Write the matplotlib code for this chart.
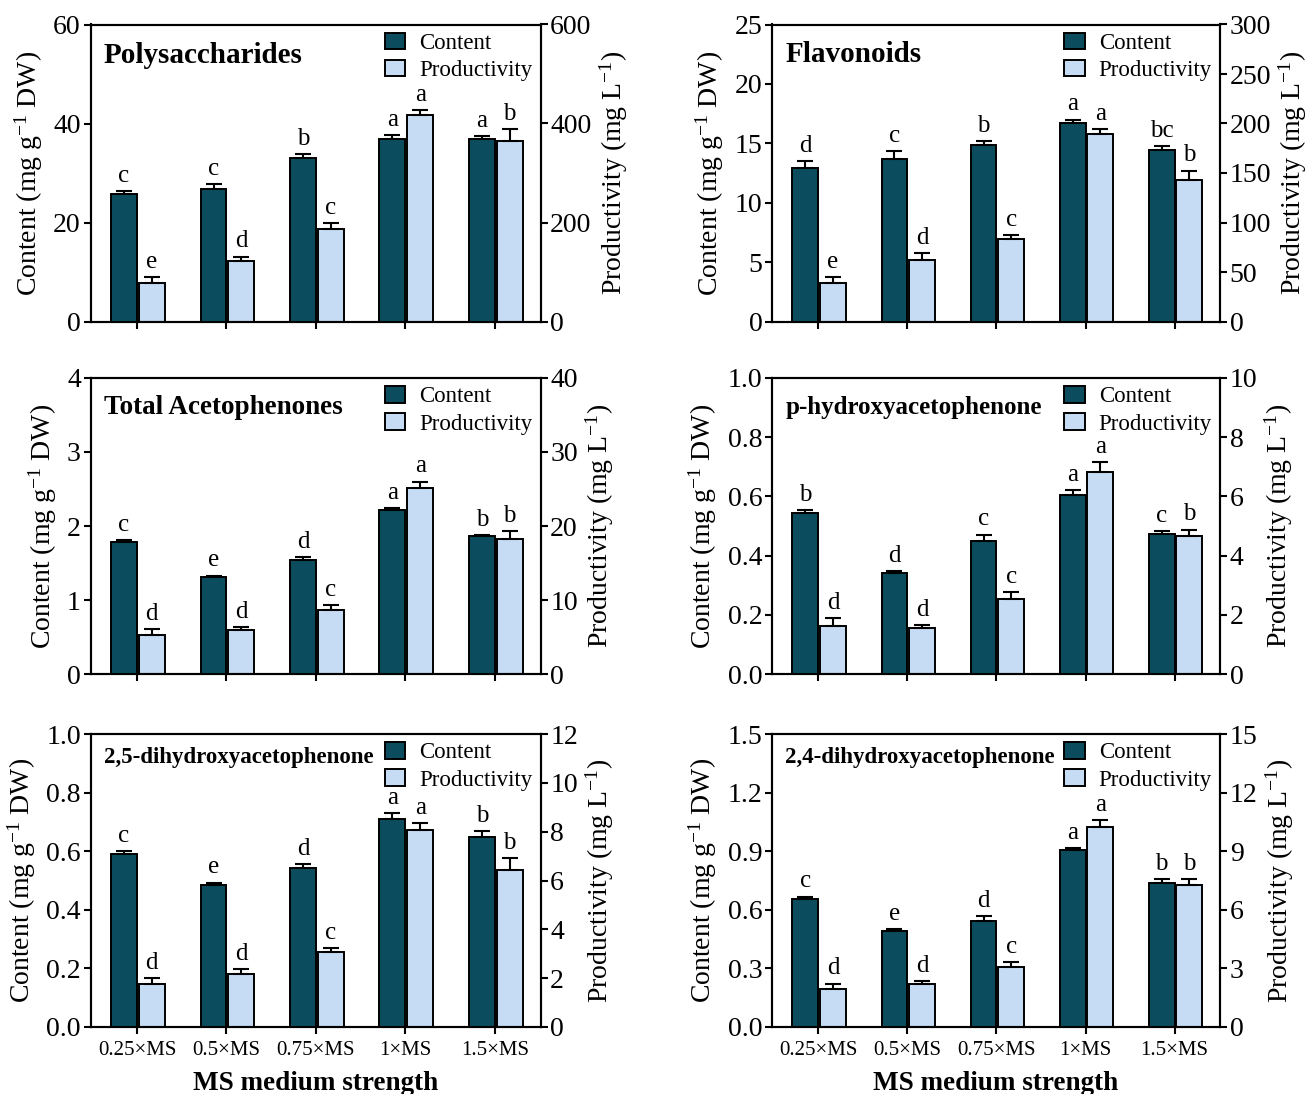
import matplotlib
matplotlib.use("Agg")
import matplotlib.pyplot as plt
import numpy as np
from matplotlib.patches import Patch

plt.rcParams['font.family'] = ['Liberation Serif', 'DejaVu Serif']
plt.rcParams['mathtext.fontset'] = 'custom'
plt.rcParams['mathtext.rm'] = 'Liberation Serif'
plt.rcParams['mathtext.it'] = 'Liberation Serif:italic'
plt.rcParams['mathtext.bf'] = 'Liberation Serif:bold'

categories = ['0.25×MS', '0.5×MS', '0.75×MS', '1×MS', '1.5×MS']

# Polysaccharides
poly_content = [25.7, 26.8, 33.0, 36.8, 36.95]
poly_content_err = [0.7, 1.0, 0.8, 0.9, 0.45]
poly_prod = [77, 122, 187, 417, 365]
poly_prod_err = [13, 9, 12, 10, 23]
poly_content_letters = ['c', 'c', 'b', 'a', 'a']
poly_prod_letters = ['e', 'd', 'c', 'a', 'b']

# Flavonoids
flav_content = [12.94, 13.72, 14.82, 16.73, 14.4]
flav_content_err = [0.55, 0.62, 0.37, 0.26, 0.39]
flav_prod = [38.5, 62.4, 83.7, 189, 142.8]
flav_prod_err = [6.5, 6.5, 3.7, 5.4, 9.7]
flav_content_letters = ['d', 'c', 'b', 'a', 'bc']
flav_prod_letters = ['e', 'd', 'c', 'a', 'b']

# Total acetophenones
tace_content = [1.79, 1.31, 1.54, 2.22, 1.86]
tace_content_err = [0.02, 0.02, 0.04, 0.02, 0.02]
tace_prod = [5.33, 5.88, 8.68, 25.2, 18.3]
tace_prod_err = [0.73, 0.49, 0.59, 0.8, 1.0]
tace_content_letters = ['c', 'e', 'd', 'a', 'b']
tace_prod_letters = ['d', 'd', 'c', 'a', 'b']

# p-hydroxyacetophenone
phyd_content = [0.543, 0.341, 0.449, 0.604, 0.473]
phyd_content_err = [0.010, 0.008, 0.022, 0.018, 0.009]
phyd_prod = [1.63, 1.55, 2.54, 6.84, 4.67]
phyd_prod_err = [0.25, 0.11, 0.23, 0.33, 0.21]
phyd_content_letters = ['b', 'd', 'c', 'a', 'c']
phyd_prod_letters = ['d', 'd', 'c', 'a', 'b']

# 2,5-dihydroxyacetophenone
d25_content = [0.591, 0.483, 0.544, 0.710, 0.650]
d25_content_err = [0.008, 0.010, 0.011, 0.020, 0.018]
d25_prod = [1.76, 2.17, 3.07, 8.06, 6.42]
d25_prod_err = [0.23, 0.20, 0.15, 0.29, 0.51]
d25_content_letters = ['c', 'e', 'd', 'a', 'b']
d25_prod_letters = ['d', 'd', 'c', 'a', 'b']

# 2,4-dihydroxyacetophenone
d24_content = [0.656, 0.491, 0.545, 0.905, 0.736]
d24_content_err = [0.012, 0.012, 0.021, 0.009, 0.021]
d24_prod = [1.96, 2.20, 3.07, 10.26, 7.28]
d24_prod_err = [0.26, 0.14, 0.25, 0.34, 0.29]
d24_content_letters = ['c', 'e', 'd', 'a', 'b']
d24_prod_letters = ['d', 'd', 'c', 'a', 'b']

C_DARK = '#0b4d5e'
C_LIGHT = '#c6dcf4'

panels = [
    dict(title='Polysaccharides', tsize=21, ty=0.897,
         c=poly_content, ce=poly_content_err, p=poly_prod, pe=poly_prod_err,
         cl=poly_content_letters, pl=poly_prod_letters,
         lt=np.arange(0, 61, 20), rt=np.arange(0, 601, 200), fmt='{:.0f}'),
    dict(title='Flavonoids', tsize=21, ty=0.90,
         c=flav_content, ce=flav_content_err, p=flav_prod, pe=flav_prod_err,
         cl=flav_content_letters, pl=flav_prod_letters,
         lt=np.arange(0, 26, 5), rt=np.arange(0, 301, 50), fmt='{:.0f}'),
    dict(title='Total Acetophenones', tsize=19.5, ty=0.899,
         c=tace_content, ce=tace_content_err, p=tace_prod, pe=tace_prod_err,
         cl=tace_content_letters, pl=tace_prod_letters,
         lt=np.arange(0, 5, 1), rt=np.arange(0, 41, 10), fmt='{:.0f}'),
    dict(title='p-hydroxyacetophenone', tsize=18, ty=0.90,
         c=phyd_content, ce=phyd_content_err, p=phyd_prod, pe=phyd_prod_err,
         cl=phyd_content_letters, pl=phyd_prod_letters,
         lt=np.linspace(0, 1.0, 6), rt=np.arange(0, 11, 2), fmt='{:.1f}'),
    dict(title='2,5-dihydroxyacetophenone', tsize=16.5, ty=0.92,
         c=d25_content, ce=d25_content_err, p=d25_prod, pe=d25_prod_err,
         cl=d25_content_letters, pl=d25_prod_letters,
         lt=np.linspace(0, 1.0, 6), rt=np.arange(0, 13, 2), fmt='{:.1f}'),
    dict(title='2,4-dihydroxyacetophenone', tsize=16.5, ty=0.92,
         c=d24_content, ce=d24_content_err, p=d24_prod, pe=d24_prod_err,
         cl=d24_content_letters, pl=d24_prod_letters,
         lt=np.linspace(0, 1.5, 6), rt=np.arange(0, 16, 3), fmt='{:.1f}'),
]

W, H = 1309, 1094
fig = plt.figure(figsize=(W / 100, H / 100), dpi=100)

cols = [(90.5, 540.5), (772, 1220)]
rows = [(24.5, 321.5), (378, 674), (734, 1027)]

x = np.arange(len(categories))
bw = 0.29
LW = 1.5

for i, pn in enumerate(panels):
    r, cidx = divmod(i, 2)
    x0, x1 = cols[cidx]
    y0, y1 = rows[r]
    ax = fig.add_axes([x0 / W, 1 - y1 / H, (x1 - x0) / W, (y1 - y0) / H])
    ax2 = ax.twinx()
    ax.set_zorder(ax2.get_zorder() + 1)
    ax.patch.set_visible(False)

    ce = pn['ce']; pe = pn['pe']
    ax.bar(x - bw / 2, pn['c'], bw, color=C_DARK, edgecolor='black', linewidth=1.4,
           yerr=[np.zeros(len(ce)), ce], error_kw=dict(ecolor='black', elinewidth=1.5,
                                                       capsize=5.5, capthick=1.5))
    ax2.bar(x + 0.02 + bw / 2, pn['p'], bw, color=C_LIGHT, edgecolor='black', linewidth=1.4,
            yerr=[np.zeros(len(pe)), pe], error_kw=dict(ecolor='black', elinewidth=1.5,
                                                        capsize=5.5, capthick=1.5))
    for xi, v, e, lab in zip(x, pn['c'], ce, pn['cl']):
        ax.annotate(lab, (xi - bw / 2, v + e), xytext=(0, 3), textcoords='offset points',
                    ha='center', va='bottom', fontsize=18)
    for xi, v, e, lab in zip(x, pn['p'], pe, pn['pl']):
        ax2.annotate(lab, (xi + 0.02 + bw / 2, v + e), xytext=(0, 3), textcoords='offset points',
                     ha='center', va='bottom', fontsize=18)

    ax.set_xlim(-0.52, 4.51)
    lt = pn['lt']; rt = pn['rt']
    ax.set_ylim(lt[0], lt[-1])
    ax2.set_ylim(rt[0], rt[-1])
    ax.set_yticks(lt)
    ax.set_yticklabels([pn['fmt'].format(t) for t in lt])
    ax2.set_yticks(rt)
    ax2.set_yticklabels(['{:.0f}'.format(t) for t in rt])
    ax.set_xticks(x)
    if r == 2:
        ax.set_xticklabels(categories, fontsize=15)
        ax.set_xlabel('MS medium strength', fontsize=19.5, fontweight='bold', labelpad=8)
    else:
        ax.set_xticklabels([])

    for a in (ax, ax2):
        for s in a.spines.values():
            s.set_linewidth(LW)
        a.tick_params(axis='both', width=LW, length=5, labelsize=20, direction='out', pad=2)
    ax.tick_params(axis='x', labelsize=15, pad=5)

    ax.set_ylabel('Content (mg g$^{\\mathregular{-1}}$ DW)', fontsize=20, labelpad=6)
    ax2.set_ylabel('Productivity (mg L$^{\\mathregular{-1}}$)', fontsize=20, labelpad=4)

    ax.text(0.03, pn['ty'], pn['title'], transform=ax.transAxes, fontsize=pn['tsize'],
            fontweight='bold', ha='left', va='center')

    handles = [Patch(facecolor=C_DARK, edgecolor='black', linewidth=1.4, label='Content'),
               Patch(facecolor=C_LIGHT, edgecolor='black', linewidth=1.4, label='Productivity')]
    ax.legend(handles=handles, loc='upper right', bbox_to_anchor=(1.0, 1.0), frameon=False,
              fontsize=16.5, handlelength=0.9, handleheight=0.75, handletextpad=0.6,
              borderaxespad=0.15, borderpad=0.2, labelspacing=0.25)

fig.savefig('out.png', dpi=100)
